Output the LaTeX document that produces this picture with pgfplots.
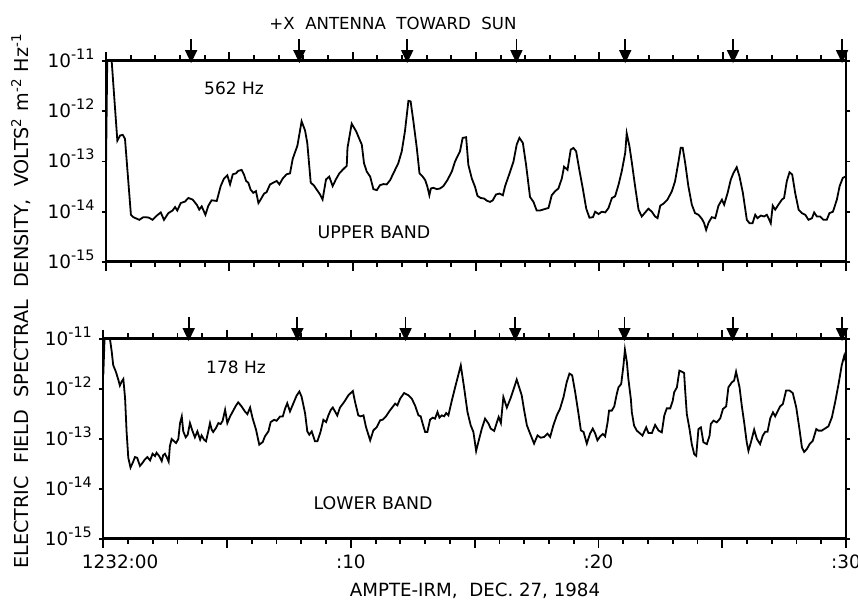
\documentclass[border=0pt]{standalone}
\usepackage{pgfplots}
\pgfplotsset{compat=1.18}
\usepackage{fontspec}
\setmainfont{DejaVu Sans}
\newcommand{\ytl}[1]{10\raisebox{4pt}{\fontsize{7.2}{7}\selectfont -#1}}
\pgfdeclareplotmark{sunarrow}{%
  \pgfsetlinewidth{0.9pt}%
  \pgfpathmoveto{\pgfpoint{0pt}{11pt}}\pgfpathlineto{\pgfpoint{0pt}{4pt}}\pgfusepathqstroke
  \pgfpathmoveto{\pgfpoint{-2.4pt}{5pt}}\pgfpathlineto{\pgfpoint{2.4pt}{5pt}}\pgfpathlineto{\pgfpoint{0pt}{0pt}}\pgfpathclose\pgfusepathqfillstroke}
\pgfdeclareplotmark{tkmin}{%
  \pgfsetlinewidth{0.9pt}%
  \pgfpathmoveto{\pgfpoint{0pt}{0pt}}\pgfpathlineto{\pgfpoint{0pt}{3pt}}\pgfusepathqstroke}
\pgfdeclareplotmark{tkmaj}{%
  \pgfsetlinewidth{0.9pt}%
  \pgfpathmoveto{\pgfpoint{0pt}{0pt}}\pgfpathlineto{\pgfpoint{0pt}{4.3pt}}\pgfusepathqstroke}
\begin{document}
\begin{tikzpicture}
\useasboundingbox (0pt,0pt) rectangle (429pt,301.5pt);
% ---------------- upper panel
\begin{axis}[ymode=log, scale only axis, anchor=south west,
    at={(53pt,170.5pt)}, width=370pt, height=100.5pt,
    xmin=0, xmax=30, ymin=1e-15, ymax=1e-11,
    xtick={0,5,...,30}, minor x tick num=4, xticklabels={},
    ytick=\empty, yminorticks=false,
    extra y ticks={1e-15,1e-14,1e-13,1e-12,1e-11},
    extra y tick labels={\ytl{15},\ytl{14},\ytl{13},\ytl{12},\ytl{11}},
    extra y tick style={major tick length=2.2pt},
    yticklabel style={anchor=base east, yshift=-3.2pt},
    tick align=outside, xtick pos=both, ytick pos=both,
    major tick length=4.5pt, minor tick length=2.6pt,
    every tick/.style={black, line width=0.9pt},
    separate axis lines,
    x axis line style={line width=1.5pt},
    y axis line style={line width=0.9pt},
    tick label style={font=\fontsize{9.2}{10}\selectfont},
    clip mode=individual]
\addplot[black, line width=0.9pt] table {
x y
0 7e-14
0.05 1e-11
0.23 1e-11
0.46 2.6e-13
0.57 3.29e-13
0.68 3.39e-13
0.77 2.82e-13
1.01 8.7e-15
1.11 7.8e-15
1.35 6.9e-15
1.51 7.8e-15
1.72 7.7e-15
1.89 6.9e-15
2.05 8.3e-15
2.22 9.7e-15
2.35 6.9e-15
2.53 9.4e-15
2.70 1.06e-14
2.80 1.24e-14
2.89 1.06e-14
3.03 1.49e-14
3.20 1.59e-14
3.34 1.88e-14
3.51 1.75e-14
3.68 1.38e-14
3.78 1.1e-14
3.88 1.28e-14
4.03 8.7e-15
4.15 1.32e-14
4.28 1.69e-14
4.49 1.64e-14
4.65 3.24e-14
4.78 4.55e-14
4.92 5.3e-14
5.03 3.5e-14
5.14 5.56e-14
5.27 5.8e-14
5.36 6.5e-14
5.50 6.8e-14
5.59 5.56e-14
5.68 4.1e-14
5.77 3.78e-14
5.86 2.77e-14
5.97 2.38e-14
6.08 2.57e-14
6.18 1.49e-14
6.27 1.75e-14
6.41 2.3e-14
6.51 2.45e-14
6.65 3.5e-14
6.78 3.78e-14
6.92 4.1e-14
7.03 3.5e-14
7.16 4.55e-14
7.32 5.56e-14
7.46 5.8e-14
7.57 1.13e-13
7.76 2.07e-13
7.93 6.3e-13
8.07 4.14e-13
8.16 2.34e-13
8.30 3.78e-14
8.43 3.34e-14
8.54 2.77e-14
8.68 2.2e-14
8.78 1.75e-14
8.92 4.4e-14
9.05 5.0e-14
9.19 3.24e-14
9.32 4.4e-14
9.46 5.8e-14
9.59 6.8e-14
9.76 8.2e-14
9.79 1.86e-13
9.96 5.65e-13
10.14 4.0e-13
10.30 2.6e-13
10.37 2.17e-13
10.46 9.25e-14
10.57 6.3e-14
10.71 5.0e-14
10.84 2.82e-14
10.98 2.69e-14
11.11 3.39e-14
11.25 3.55e-14
11.38 3.5e-14
11.52 4.27e-14
11.65 5.8e-14
11.85 9.25e-14
11.99 1.59e-13
12.12 4.0e-13
12.26 1.61e-12
12.35 1.57e-12
12.46 6.4e-13
12.60 1.86e-13
12.71 5.8e-14
12.84 5.0e-14
12.94 4.27e-14
13.03 3.14e-14
13.11 2.13e-14
13.17 2.9e-14
13.27 3.0e-14
13.41 2.82e-14
13.54 2.9e-14
13.68 3.24e-14
13.84 4.27e-14
14.02 6.3e-14
14.15 1.0e-13
14.35 1.59e-13
14.46 2.95e-13
14.60 3.04e-13
14.69 8.6e-14
14.83 4.6e-14
14.96 3.14e-14
15.06 2.07e-14
15.19 1.88e-14
15.33 1.83e-14
15.44 1.66e-14
15.57 1.57e-14
15.68 1.69e-14
15.81 2.2e-14
15.95 2.3e-14
16.09 2.13e-14
16.18 3.24e-14
16.36 5.8e-14
16.52 1.0e-13
16.65 2.17e-13
16.76 2.95e-13
16.90 2.34e-13
17.03 8.6e-14
17.19 1.97e-14
17.33 1.57e-14
17.46 1.06e-14
17.60 1.06e-14
17.73 1.11e-14
17.94 1.19e-14
18.07 2.13e-14
18.21 2.57e-14
18.34 2.9e-14
18.48 4.6e-14
18.57 7.9e-14
18.71 6.8e-14
18.84 1.72e-13
18.95 1.86e-13
19.06 1.59e-13
19.19 6.8e-14
19.33 2.9e-14
19.47 1.15e-14
19.60 7.6e-15
19.74 7.8e-15
19.83 1.0e-14
19.97 9.0e-15
20.10 1.0e-14
20.24 9.7e-15
20.37 1.18e-14
20.51 1.88e-14
20.64 2.03e-14
20.78 3.47e-14
20.91 6.4e-14
21.05 1.49e-13
21.11 3.63e-13
21.22 2.03e-13
21.32 9.4e-14
21.45 3.21e-14
21.59 1.1e-14
21.72 8.05e-15
21.86 9.7e-15
21.99 1.15e-14
22.13 1.0e-14
22.26 8.05e-15
22.36 7.45e-15
22.47 1.32e-14
22.60 1.45e-14
22.76 1.74e-14
22.94 2.55e-14
23.07 4.04e-14
23.21 1.0e-13
23.30 1.88e-13
23.38 1.88e-13
23.48 9.4e-14
23.61 3.21e-14
23.75 1.38e-14
23.88 9.4e-15
24.02 8.7e-15
24.16 7.2e-15
24.25 5.9e-15
24.33 4.34e-15
24.43 6.1e-15
24.56 7.8e-15
24.70 7.45e-15
24.83 1.32e-14
24.97 1.74e-14
25.06 1.38e-14
25.20 2.36e-14
25.33 4.37e-14
25.44 5.93e-14
25.57 7.7e-14
25.68 5.09e-14
25.82 2.36e-14
25.98 6.9e-15
26.09 5.9e-15
26.21 5.9e-15
26.32 8.7e-15
26.41 7.45e-15
26.55 8.4e-15
26.68 8.05e-15
26.79 8.7e-15
26.86 7.45e-15
26.95 5.9e-15
27.03 1.32e-14
27.13 1.1e-14
27.26 1.38e-14
27.40 1.74e-14
27.49 1.88e-14
27.60 4.04e-14
27.71 6.1e-14
27.82 5.5e-14
27.94 2.36e-14
28.08 1.1e-14
28.21 9.4e-15
28.35 8.7e-15
28.48 6.9e-15
28.62 7.45e-15
28.71 9.7e-15
28.82 8.05e-15
28.95 8.05e-15
29.09 6.9e-15
29.22 6.9e-15
29.33 9.4e-15
29.47 1.0e-14
29.63 1.74e-14
29.74 3.21e-14
29.87 4.71e-14
30.0 5.09e-14
};
\addplot[only marks, mark=tkmin, black] coordinates {
(1,1e-11) (2,1e-11) (3,1e-11) (4,1e-11) (6,1e-11) (7,1e-11) (8,1e-11) (9,1e-11)
(11,1e-11) (12,1e-11) (13,1e-11) (14,1e-11) (16,1e-11) (17,1e-11) (18,1e-11) (19,1e-11)
(21,1e-11) (22,1e-11) (23,1e-11) (24,1e-11) (26,1e-11) (27,1e-11) (28,1e-11) (29,1e-11)};
\addplot[only marks, mark=tkmaj, black] coordinates {
(0,1e-11) (5,1e-11) (10,1e-11) (15,1e-11) (20,1e-11) (25,1e-11) (30,1e-11)};
\addplot[only marks, mark=sunarrow, black] coordinates {
(3.45,1e-11) (7.84,1e-11) (12.21,1e-11) (16.64,1e-11) (21.05,1e-11) (25.42,1e-11) (29.84,1e-11)};
\end{axis}
% ---------------- lower panel
\begin{axis}[ymode=log, scale only axis, anchor=south west,
    at={(51.65pt,32pt)}, width=371.35pt, height=100pt,
    xmin=0, xmax=30, ymin=1e-15, ymax=1e-11,
    xtick={0,5,...,30}, minor x tick num=4,
    xticklabels={\makebox[0pt][l]{\hspace{-10.7pt}1232:00},,:10,,:20,,:30},
    ytick=\empty, yminorticks=false,
    extra y ticks={1e-15,1e-14,1e-13,1e-12,1e-11},
    extra y tick labels={\ytl{15},\ytl{14},\ytl{13},\ytl{12},\ytl{11}},
    extra y tick style={major tick length=2.2pt},
    yticklabel style={anchor=base east, yshift=-3.2pt},
    tick align=outside, xtick pos=both, ytick pos=both,
    major tick length=4.5pt, minor tick length=2.6pt,
    every tick/.style={black, line width=0.9pt},
    separate axis lines,
    x axis line style={line width=1.5pt},
    y axis line style={line width=0.9pt},
    tick label style={font=\fontsize{9.2}{10}\selectfont},
    clip mode=individual]
\addplot[black, line width=0.9pt] table {
x y
0.0 1.9e-12
0.05 1e-11
0.27 1e-11
0.34 5.6e-12
0.40 3.0e-12
0.51 2.2e-12
0.61 1.51e-12
0.67 1.17e-12
0.74 1.4e-12
0.81 1.58e-12
0.88 6.5e-13
0.94 1.42e-13
1.01 4.2e-14
1.10 2.68e-14
1.19 3.36e-14
1.28 4.35e-14
1.37 4.2e-14
1.48 2.89e-14
1.59 3.36e-14
1.68 3.91e-14
1.78 4.35e-14
1.89 3.73e-14
1.99 5.06e-14
2.09 4.55e-14
2.15 5.3e-14
2.26 4.55e-14
2.36 3.62e-14
2.42 4.76e-14
2.49 5.06e-14
2.56 4.35e-14
2.64 3.52e-14
2.69 7.2e-14
2.76 1.0e-13
2.86 9.0e-14
2.94 8.3e-14
3.03 1.0e-13
3.10 2.08e-13
3.17 2.82e-13
3.23 1.42e-13
3.33 1.08e-13
3.41 1.22e-13
3.50 2.08e-13
3.60 1.46e-13
3.70 1.08e-13
3.80 1.42e-13
3.91 9.7e-14
3.97 1.18e-13
4.07 9.7e-14
4.15 9.0e-14
4.24 1.42e-13
4.31 2.08e-13
4.38 1.53e-13
4.44 1.38e-13
4.55 1.66e-13
4.65 2.08e-13
4.74 1.99e-13
4.82 2.31e-13
4.92 3.83e-13
5.01 2.08e-13
5.12 2.82e-13
5.23 3.55e-13
5.36 4.67e-13
5.45 5.4e-13
5.59 4.46e-13
5.72 3.55e-13
5.82 3.14e-13
5.93 4.26e-13
6.03 2.61e-13
6.17 1.53e-13
6.30 7.7e-14
6.44 8.7e-14
6.53 1.13e-13
6.67 1.42e-13
6.76 2.18e-13
6.90 2.42e-13
7.00 2.31e-13
7.14 2.82e-13
7.25 2.82e-13
7.34 4.0e-13
7.43 5.2e-13
7.54 3.55e-13
7.68 5.2e-13
7.81 7.4e-13
7.92 8.9e-13
8.01 7.0e-13
8.15 3.29e-13
8.24 1.42e-13
8.32 1.22e-13
8.42 1.42e-13
8.55 9.0e-14
8.65 9.0e-14
8.78 1.42e-13
8.89 2.42e-13
9.00 2.18e-13
9.09 2.95e-13
9.19 3.83e-13
9.27 4.26e-13
9.36 3.55e-13
9.45 2.95e-13
9.56 4.25e-13
9.73 5.5e-13
9.90 7.5e-13
10.08 9.1e-13
10.17 5.5e-13
10.30 2.97e-13
10.40 2.84e-13
10.51 2.97e-13
10.61 1.74e-13
10.78 9.4e-14
10.91 1.49e-13
11.05 1.74e-13
11.18 2.36e-13
11.29 2.44e-13
11.42 2.84e-13
11.58 3.74e-13
11.79 5.09e-13
11.88 4.71e-13
11.99 6.4e-13
12.15 8.3e-13
12.32 7.5e-13
12.46 6.4e-13
12.59 4.71e-13
12.73 2.97e-13
12.82 2.84e-13
12.90 2.03e-13
13.00 1.38e-13
13.09 1.38e-13
13.20 2.44e-13
13.31 2.67e-13
13.40 2.55e-13
13.50 3.47e-13
13.58 2.67e-13
13.67 2.97e-13
13.77 2.84e-13
13.85 3.31e-13
13.94 2.97e-13
14.08 5.93e-13
14.25 1.28e-12
14.44 2.97e-12
14.57 1.1e-12
14.71 3.47e-13
14.84 1.88e-13
14.95 1.38e-13
15.06 5.75e-14
15.15 8.7e-14
15.29 1.61e-13
15.42 2.55e-13
15.56 2.03e-13
15.65 1.61e-13
15.79 1.45e-13
15.89 2.09e-13
15.97 2.75e-13
16.06 2.09e-13
16.16 6.9e-13
16.30 4.24e-13
16.46 6.7e-13
16.70 1.54e-12
16.90 7.5e-13
17.00 3.74e-13
17.11 1.88e-13
17.24 1.28e-13
17.40 8.1e-14
17.54 1.18e-13
17.67 1.06e-13
17.81 1.1e-13
17.94 1.28e-13
18.05 1.1e-13
18.18 1.88e-13
18.32 2.97e-13
18.45 4.04e-13
18.59 6.9e-13
18.72 1.38e-12
18.83 2.03e-12
18.94 1.88e-12
19.06 8.7e-13
19.19 3.31e-13
19.29 1.49e-13
19.40 1.38e-13
19.53 8.1e-14
19.66 1.28e-13
19.77 1.61e-13
19.87 1.28e-13
19.96 9.4e-14
20.07 1.13e-13
20.18 1.26e-13
20.27 1.13e-13
20.37 2.15e-13
20.43 3.69e-13
20.54 3.69e-13
20.64 4.5e-13
20.74 7.9e-13
20.81 1.08e-12
20.92 1.26e-12
21.01 2.93e-12
21.07 6.1e-12
21.15 3.41e-12
21.21 1.58e-12
21.31 6.3e-13
21.35 3.41e-13
21.44 1.85e-13
21.55 1.47e-13
21.66 1.32e-13
21.78 1.17e-13
21.93 1.71e-13
22.02 1.32e-13
22.16 1.32e-13
22.29 1.91e-13
22.43 1.47e-13
22.56 1.36e-13
22.66 2.93e-13
22.76 4.1e-13
22.90 4.1e-13
23.00 5.8e-13
23.06 8.6e-13
23.17 1.08e-12
23.27 2.33e-12
23.37 2.22e-12
23.46 2.09e-12
23.50 1.0e-12
23.57 3.16e-13
23.68 1.58e-13
23.77 7.9e-14
23.87 4.96e-14
23.95 4.6e-14
24.04 1.58e-13
24.14 1.71e-13
24.24 8.6e-14
24.38 7.9e-14
24.49 1.17e-13
24.54 2.0e-13
24.65 2.33e-13
24.78 2.15e-13
24.92 2.59e-13
25.03 3.98e-13
25.16 4.5e-13
25.25 1.08e-12
25.39 1.36e-12
25.48 1.47e-12
25.56 2.22e-12
25.70 1.08e-12
25.79 4.64e-13
25.89 2.09e-13
25.99 8.6e-14
26.06 5.8e-14
26.16 8.6e-14
26.29 1.54e-13
26.40 1.0e-13
26.53 7.9e-14
26.64 1.17e-13
26.74 1.4e-13
26.83 1.4e-13
26.94 2.59e-13
27.05 3.41e-13
27.14 2.84e-13
27.23 3.52e-13
27.34 4.5e-13
27.45 5.0e-13
27.58 9.3e-13
27.72 9.3e-13
27.85 8.3e-13
27.99 4.3e-13
28.12 1.58e-13
28.22 6.8e-14
28.31 5.5e-14
28.42 6.3e-14
28.53 7.9e-14
28.66 9.25e-14
28.80 1.58e-13
28.89 1.47e-13
29.02 1.47e-13
29.16 1.63e-13
29.29 1.79e-13
29.43 2.71e-13
29.56 5.4e-13
29.70 1.26e-12
29.83 3.02e-12
29.93 4.64e-12
30.0 3.41e-12
};
\addplot[only marks, mark=tkmin, black] coordinates {
(1,1e-11) (2,1e-11) (3,1e-11) (4,1e-11) (6,1e-11) (7,1e-11) (8,1e-11) (9,1e-11)
(11,1e-11) (12,1e-11) (13,1e-11) (14,1e-11) (16,1e-11) (17,1e-11) (18,1e-11) (19,1e-11)
(21,1e-11) (22,1e-11) (23,1e-11) (24,1e-11) (26,1e-11) (27,1e-11) (28,1e-11) (29,1e-11)};
\addplot[only marks, mark=tkmaj, black] coordinates {
(0,1e-11) (5,1e-11) (10,1e-11) (15,1e-11) (20,1e-11) (25,1e-11) (30,1e-11)};
\addplot[only marks, mark=sunarrow, black] coordinates {
(3.45,1e-11) (7.84,1e-11) (12.21,1e-11) (16.64,1e-11) (21.05,1e-11) (25.42,1e-11) (29.84,1e-11)};
\end{axis}
% ---------------- texts
\node[font=\fontsize{8.3}{9}\selectfont] at (196.5pt,290pt) {+X\ \ ANTENNA\ \ TOWARD\ \ SUN};
\node[font=\fontsize{8.5}{10}\selectfont] at (117pt,257.5pt) {562 Hz};
\node[font=\fontsize{8.7}{10}\selectfont] at (187pt,185.5pt) {UPPER BAND};
\node[font=\fontsize{8.5}{10}\selectfont] at (118pt,118pt) {178 Hz};
\node[font=\fontsize{8.7}{10}\selectfont] at (186.5pt,50pt) {LOWER BAND};
\node[font=\fontsize{9.1}{10}\selectfont] at (237.5pt,6pt) {AMPTE-IRM,\ \ DEC.~27, 1984};
\node[font=\fontsize{9.6}{10}\selectfont, rotate=90] at (10.5pt,151pt)
  {ELECTRIC\ \ FIELD\ \ SPECTRAL\ \ DENSITY,\ \ VOLTS\textsuperscript{2} m\textsuperscript{-2} Hz\textsuperscript{-1}};
\end{tikzpicture}
\end{document}
